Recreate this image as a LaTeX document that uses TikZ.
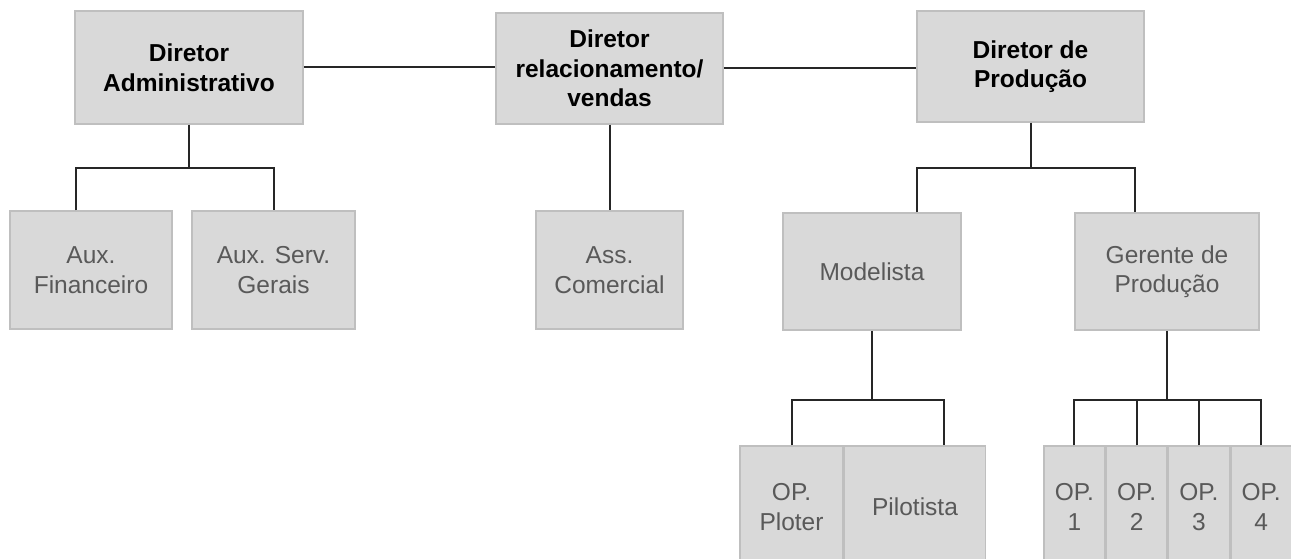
\documentclass[tikz,border=0pt]{standalone}
\usepackage{fontspec}
\setmainfont{Liberation Sans}
\usetikzlibrary{positioning}
\definecolor{boxFill}{HTML}{D9D9D9}
\definecolor{boxLine}{HTML}{BFBFBF}
\definecolor{txtGray}{HTML}{595959}
\definecolor{lineDark}{HTML}{262626}

\begin{document}
\begin{tikzpicture}[x=1pt, y=-1pt,
  box/.style={draw=boxLine, line width=1.5pt, fill=boxFill, align=center, inner sep=0pt,
    font=\fontsize{24.5}{29.5}\selectfont},
  head/.style={box, font=\fontsize{24.5}{29.5}\selectfont\bfseries},
  staff/.style={box, text=txtGray},
  opbox/.style={staff, minimum width=60.75, minimum height=122},
  link/.style={draw=lineDark, line width=2pt},
]
  \useasboundingbox (0,0) rectangle (1291,559);

  % directors
  \node[head, minimum width=228, minimum height=113] (adm) at (189,67.5) {Diretor\\Administrativo};
  \node[head, minimum width=227, minimum height=111] (rel) at (609.5,68.5) {Diretor\\relacionamento/\\vendas};
  \node[head, minimum width=227, minimum height=111] (prod) at (1030.5,66.5) {Diretor de\\Produção};

  % second level
  \node[staff, minimum width=162, minimum height=118] (auxfin) at (91,270) {Aux.\\Financeiro};
  \node[staff, minimum width=163, minimum height=118] (auxserv) at (273.5,270) {Aux. Serv.\\Gerais};
  \node[staff, minimum width=147, minimum height=118] (ass) at (609.5,270) {Ass.\\Comercial};
  \node[staff, minimum width=178, minimum height=117] (model) at (872,271.5) {Modelista};
  \node[staff, minimum width=184, minimum height=117] (ger) at (1167,271.5) {Gerente de\\Produção};

  % third level
  \node[staff, minimum width=103, minimum height=122] (ploter) at (791.5,507) {OP.\\Ploter};
  \node[staff, minimum width=141, minimum height=122, right=0pt of ploter] (pilot) {Pilotista};
  \node[opbox] (op1) at (1074.4,507) {OP.\\1};
  \foreach \i/\j in {2/1,3/2,4/3}
    \node[opbox, right=0pt of op\j] (op\i) {OP.\\\i};

  % connectors
  \draw[link] (adm.east) -- (adm.east -| rel.west);
  \draw[link] (rel.east) -- (rel.east -| prod.west);
  \draw[link] (adm.south) -- ++(0,43) coordinate (admj);
  \draw[link] ([xshift=-15pt]auxfin.north) |- (admj) -| (auxserv.north);
  \draw[link] (rel.south) -- (ass.north);
  \draw[link] (prod.south) -- ++(0,45) coordinate (prodj);
  \draw[link] ([xshift=45pt]model.north) |- (prodj) -| ([xshift=-32pt]ger.north);
  \draw[link] (model.south) -- ++(0,69) coordinate (modj);
  \draw[link] (ploter.north) |- (modj) -| ([xshift=28.5pt]pilot.north);
  \draw[link] (ger.south) -- ++(0,69) coordinate (gerj);
  \foreach \i in {1,...,4}
    \draw[link] (op\i.north) |- (gerj);
\end{tikzpicture}
\end{document}
